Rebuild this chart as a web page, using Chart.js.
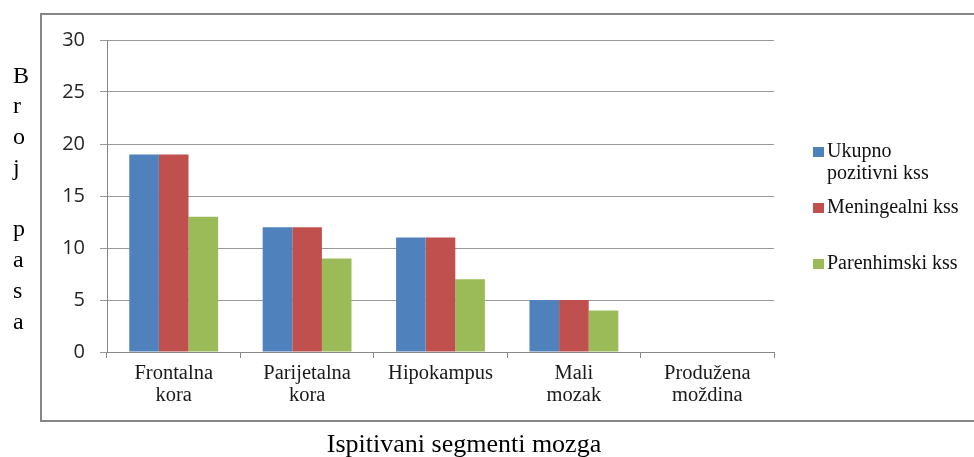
<!DOCTYPE html>
<html>
<head>
<meta charset="utf-8">
<script src="https://cdn.jsdelivr.net/npm/chart.js@4/dist/chart.umd.min.js"></script>
<style>
html,body{margin:0;padding:0;background:#fff;width:974px;height:457px;overflow:hidden}
#wrap{position:relative;width:974px;height:457px;overflow:hidden}
#frame{position:absolute;left:40px;top:13px;width:1000px;height:409px;border:2px solid #868686;box-sizing:border-box}
#c{position:absolute;left:0;top:0}
#ytitle{position:absolute;left:13px;top:59.5px;font-family:"Liberation Serif",serif;font-size:24px;line-height:30.75px;color:#000;text-align:left}
#xtitle{position:absolute;left:0;top:429px;width:928px;text-align:center;font-family:"Liberation Serif",serif;font-size:26px;line-height:30px;color:#000}
</style>
</head>
<body>
<div id="wrap">
  <div id="frame"></div>
  <canvas id="c" width="974" height="457"></canvas>
  <div id="ytitle">B<br>r<br>o<br>j<br>&nbsp;<br>p<br>a<br>s<br>a</div>
  <div id="xtitle">Ispitivani segmenti mozga</div>
</div>
<script>
const categories = [["Frontalna","kora"],["Parijetalna","kora"],["Hipokampus"],["Mali","mozak"],["Produžena","moždina"]];
const seriesNames = [["Ukupno","pozitivni kss"],["Meningealni kss"],["Parenhimski kss"]];
const ukupnoPozitivni = [19, 12, 11, 5, 0];
const meningealni = [19, 12, 11, 5, 0];
const parenhimski = [13, 9, 7, 4, 0];
const yTicks = [0, 5, 10, 15, 20, 25, 30];
const seriesColors = ["#4F81BD", "#C0504D", "#9BBB59"];

const legendPlugin = {
  id: 'sideLegend',
  afterDraw(chart) {
    const ctx = chart.ctx;
    const x0 = 813, textX = 827;
    const baselines = [157, 213, 269];
    const lineH = 22;
    ctx.save();
    ctx.font = '20px "Liberation Serif", serif';
    ctx.textBaseline = 'alphabetic';
    ctx.textAlign = 'left';
    chart.data.datasets.forEach((ds, i) => {
      const b = baselines[i];
      ctx.fillStyle = ds.backgroundColor;
      ctx.fillRect(x0, b - 10, 11, 10);
      ctx.fillStyle = '#111';
      const lines = Array.isArray(ds.label) ? ds.label : [ds.label];
      lines.forEach((t, j) => ctx.fillText(t, textX, b + j * lineH));
    });
    ctx.restore();
  }
};

const datasets = [ukupnoPozitivni, meningealni, parenhimski].map((d, i) => ({
  label: seriesNames[i],
  data: d,
  backgroundColor: seriesColors[i],
  borderWidth: 0,
  categoryPercentage: 0.666,
  barPercentage: 1.0
}));

new Chart(document.getElementById('c'), {
  type: 'bar',
  data: { labels: categories, datasets },
  plugins: [legendPlugin],
  options: {
    responsive: false,
    animation: false,
    devicePixelRatio: 1,
    layout: { padding: { left: 0, top: 40, right: 200, bottom: 0 } },
    plugins: { legend: { display: false }, tooltip: { enabled: false }, title: { display: false } },
    scales: {
      x: {
        afterFit(s) { s.height = 105; },
        grid: { display: true, drawOnChartArea: false, drawTicks: true, tickLength: 6, color: '#888', offset: true },
        border: { display: true, color: '#888', width: 1 },
        ticks: {
          color: '#1a1a1a',
          padding: 5,
          maxRotation: 0,
          autoSkip: false,
          font: { family: '"Liberation Serif", serif', size: 20.5, lineHeight: 1.05 }
        }
      },
      y: {
        min: 0, max: 30,
        afterFit(s) { s.width = 107; },
        afterBuildTicks(s) { s.ticks = yTicks.map(v => ({ value: v })); },
        grid: { color: '#999', drawTicks: true, tickLength: 7 },
        border: { display: true, color: '#888', width: 1 },
        ticks: {
          color: '#262626',
          padding: 15,
          font: { family: '"Open Sans", sans-serif', size: 20 }
        }
      }
    }
  }
});
</script>
</body>
</html>
